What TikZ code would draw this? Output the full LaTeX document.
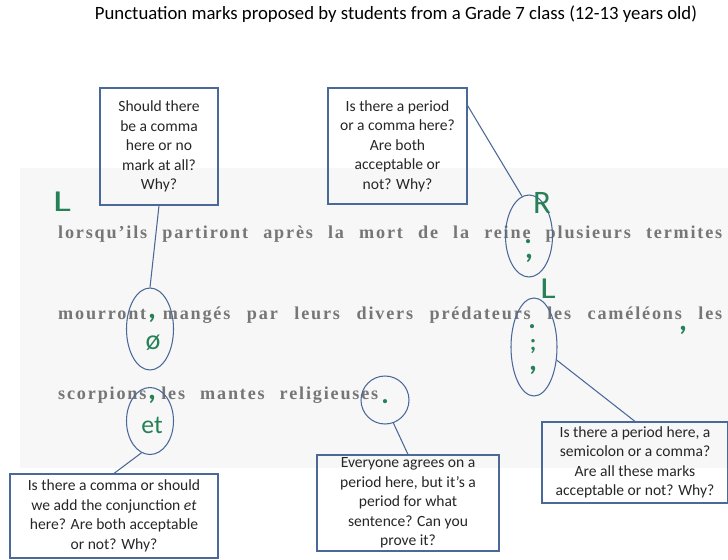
\documentclass[tikz,border=0pt]{standalone}
\usepackage{fontspec}
\setmainfont{Carlito}
\newfontfamily\scanfont[LetterSpace=10]{Liberation Serif}
\usepackage{tikz}
\usetikzlibrary{shapes.geometric}
\definecolor{boxblue}{RGB}{74,104,152}
\definecolor{pen}{RGB}{38,128,88}
\definecolor{scan}{RGB}{118,118,118}
\newcommand{\px}{0.03cm}

\begin{document}
\begin{tikzpicture}[x=0.03cm,y=-0.03cm,
  qbox/.style={draw=boxblue,line width=1pt,inner sep=0pt,align=center,text=black!85,font=\fontsize{13.3}{16.6}\selectfont},
  ring/.style={draw=boxblue,line width=0.9pt,ellipse,inner sep=0pt},
  link/.style={draw=boxblue,line width=0.9pt},
  hand/.style={text=pen,inner sep=0pt},
  scanline/.style={anchor=base west,inner sep=0pt,text=scan,font=\scanfont\bfseries\fontsize{15.5}{18}\selectfont}]
\useasboundingbox (0,0) rectangle (728,560);
% faint grey of the scanned page
\fill[black!3] (20,168) rectangle (728,468);

\node[anchor=base,font=\fontsize{16}{19}\selectfont] (title) at (396,20) {Punctuation marks proposed by students from a Grade 7 class (12-13 years old)};

% the three lines of the text
\node[scanline] (l1) at (58,238) {\makebox[19.92cm][s]{lorsqu’ils partiront après la mort de la reine plusieurs termites}};
\node[scanline] (l2) at (58,319) {\makebox[19.92cm][s]{mourront mangés par leurs divers prédateurs les caméléons les}};
\node[scanline] (l3) at (58,399) {\makebox[9.6cm][s]{scorpions les mantes religieuses}};

% question boxes
\node[qbox,minimum width=118*\px,minimum height=117*\px] (box1) at (159,146.5) {Should there\\be a comma\\here or no\\mark at all?\\Why?};
\node[qbox,minimum width=139*\px,minimum height=116*\px] (box2) at (397.5,146) {Is there a period\\or a comma here?\\Are both\\acceptable or\\not? Why?};
\node[qbox,minimum width=208*\px,minimum height=84*\px] (box3) at (114,516) {Is there a comma or should\\we add the conjunction \textit{et}\\here? Are both acceptable\\or not? Why?};
\node[qbox,minimum width=182*\px,minimum height=96*\px] (box4) at (408,503) {Everyone agrees on a\\period here, but it’s a\\period for what\\sentence? Can you\\prove it?};
\node[qbox,minimum width=186*\px,minimum height=81*\px] (box5) at (635,462.5) {Is there a period here, a\\semicolon or a comma?\\Are all these marks\\acceptable or not? Why?};

% rings round the places in question
\node[ring,minimum width=47*\px,minimum height=82*\px] (e1) at (150,329) {};
\node[ring,minimum width=47*\px,minimum height=67*\px] (e2) at (150,421) {};
\node[ring,minimum width=47*\px,minimum height=82*\px] (e3) at (529,236) {};
\node[ring,minimum width=46*\px,minimum height=98*\px] (e4) at (534,347) {};
\node[ring,minimum width=48*\px,minimum height=48*\px] (e5) at (385,400) {};

% marks written in green by the students
\node[hand,font=\fontsize{26}{26}\selectfont] (mL1) at (62,202) {\scalebox{1.4}[1]{L}};
\node[hand,font=\fontsize{28}{28}\selectfont] (mR) at (542,203) {R};
\node[hand,font=\fontsize{26}{26}\selectfont] (mL2) at (548,289) {\scalebox{1.2}[1]{L}};
\node[hand,font=\bfseries\fontsize{26}{26}\selectfont] (c1) at (152,318) {,};
\node[hand,font=\fontsize{24}{24}\selectfont] (none) at (153,343) {ø};
\node[hand,font=\bfseries\fontsize{26}{26}\selectfont] (c2) at (152,399) {,};
\node[hand,font=\fontsize{22}{22}\selectfont] (et) at (152,425) {et};
\node[hand,font=\bfseries\fontsize{24}{24}\selectfont] (p3) at (528,242) {.};
\node[hand,font=\bfseries\fontsize{26}{26}\selectfont] (c3) at (529,258) {,};
\node[hand,font=\bfseries\fontsize{24}{24}\selectfont] (p4) at (532,327) {.};
\node[hand,font=\bfseries\fontsize{20}{20}\selectfont] (s4) at (533,347) {;};
\node[hand,font=\bfseries\fontsize{26}{26}\selectfont] (c4) at (533,370) {,};
\node[hand,font=\bfseries\fontsize{24}{24}\selectfont] (p5) at (385,402) {.};
\node[hand,font=\bfseries\fontsize{26}{26}\selectfont] (c6) at (683,330) {,};

% connectors
\draw[link] (box1.south) -- (e1.north);
\draw[link] (box2.30) -- (e3.100);
\draw[link] (e2.255) -- (box3.north);
\draw[link] (e5.290) -- (box4.north);
\draw[link] (e4.330) -- (box5.north);
\end{tikzpicture}
\end{document}
